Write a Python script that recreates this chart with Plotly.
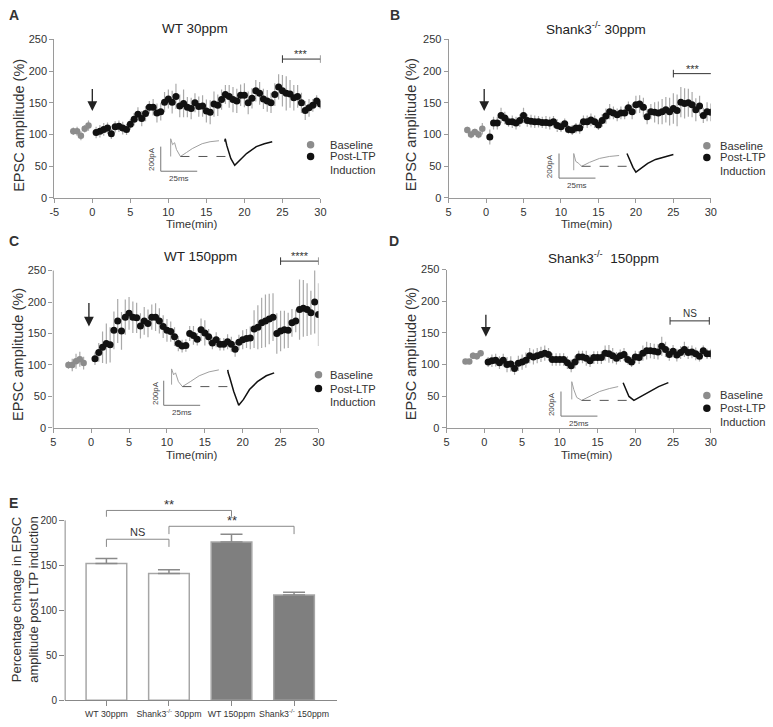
import plotly.graph_objects as go

W, H = 773, 727


def px(x):
    return x / W


def py(y):
    return 1 - y / H


# ---------------- DATA ----------------
TIME_TICKS = [-5, 0, 5, 10, 15, 20, 25, 30]
TICKTEXT_A = ["-5", "0", "5", "10", "15", "20", "25", "30"]
TICKTEXT_BCD = ["5", "0", "5", "10", "15", "20", "25", "30"]

TIME_POST = [0.5 * k for k in range(1, 61)]

# Panel A  WT 30ppm
A_BASE_T = [-2.5, -2.0, -1.5, -1.0, -0.5]
A_BASE_V = [105, 105, 98, 109, 114]
A_BASE_E = [6, 7, 7, 6, 8]
A_POST_V = [103, 105, 108, 110, 101, 112, 113, 110, 108, 116,
            124, 132, 125, 133, 143, 143, 134, 136, 151, 156,
            151, 160, 145, 149, 143, 141, 150, 144, 145, 137,
            135, 148, 146, 155, 163, 160, 155, 153, 162, 162,
            150, 157, 169, 165, 156, 153, 150, 163, 175, 169,
            165, 164, 158, 160, 150, 138, 142, 146, 153, 148]
A_POST_E = [9, 10, 10, 9, 8, 9, 9, 10, 9, 8,
            10, 11, 12, 12, 10, 13, 15, 14, 16, 15,
            18, 20, 18, 22, 16, 17, 15, 16, 17, 18,
            19, 20, 17, 16, 15, 18, 20, 19, 17, 19,
            18, 16, 17, 18, 16, 17, 16, 18, 20, 25,
            27, 22, 20, 18, 16, 15, 14, 10, 9, 8]

# Panel B  Shank3-/- 30ppm
B_BASE_T = [-2.5, -2.0, -1.5, -1.0, -0.5]
B_BASE_V = [107, 100, 104, 100, 109]
B_BASE_E = [5, 6, 5, 6, 9]
B_POST_V = [96, 118, 118, 130, 126, 120, 120, 118, 122, 130,
            122, 121, 120, 120, 119, 119, 118, 120, 114, 112,
            117, 108, 107, 110, 110, 120, 120, 123, 120, 115,
            122, 129, 136, 134, 131, 134, 134, 142, 136, 147,
            148, 143, 128, 136, 135, 134, 136, 139, 136, 141,
            138, 151, 149, 150, 147, 139, 145, 130, 136, 135]
B_POST_E = [12, 10, 10, 12, 10, 8, 10, 10, 10, 12,
            10, 10, 10, 9, 9, 10, 10, 9, 10, 8,
            8, 7, 8, 8, 9, 10, 10, 10, 10, 8,
            10, 12, 12, 10, 10, 10, 10, 10, 12, 14,
            14, 15, 12, 12, 16, 18, 20, 20, 22, 24,
            25, 24, 24, 22, 20, 18, 16, 12, 15, 14]

# Panel C  WT 150ppm
C_BASE_T = [-3.0, -2.5, -2.0, -1.5, -1.0]
C_BASE_V = [100, 100, 106, 109, 103]
C_BASE_E = [6, 10, 12, 12, 10]
C_POST_V = [110, 120, 128, 134, 132, 155, 170, 154, 176, 182,
            176, 175, 162, 170, 166, 176, 176, 170, 161, 155,
            153, 145, 134, 130, 131, 150, 147, 141, 156, 151,
            145, 135, 140, 133, 133, 137, 133, 125, 136, 140,
            142, 143, 157, 160, 167, 170, 173, 176, 150, 154,
            156, 155, 167, 170, 188, 190, 188, 183, 200, 180]
C_POST_E = [10, 15, 25, 32, 28, 30, 35, 30, 28, 26,
            25, 24, 20, 22, 22, 20, 22, 20, 18, 18,
            16, 15, 12, 10, 10, 12, 15, 10, 18, 20,
            12, 10, 12, 10, 10, 12, 12, 12, 12, 15,
            15, 18, 30, 35, 40, 42, 40, 38, 32, 32,
            30, 28, 22, 18, 48, 45, 42, 35, 50, 50]

# Panel D  Shank3-/- 150ppm
D_BASE_T = [-2.5, -2.0, -1.5, -1.0, -0.5]
D_BASE_V = [105, 105, 114, 113, 118]
D_BASE_E = [4, 4, 5, 5, 5]
D_POST_V = [104, 106, 107, 103, 107, 100, 101, 94, 102, 104,
            107, 114, 112, 114, 116, 118, 116, 108, 108, 108,
            108, 103, 98, 104, 112, 112, 110, 106, 111, 111,
            111, 118, 117, 114, 110, 114, 116, 108, 104, 112,
            111, 118, 122, 122, 121, 120, 129, 124, 116, 121,
            115, 119, 124, 119, 120, 117, 113, 122, 117, 117]
D_POST_E = [8, 10, 10, 10, 10, 12, 12, 10, 12, 12,
            12, 12, 12, 12, 12, 12, 10, 10, 10, 10,
            10, 10, 10, 10, 10, 10, 12, 10, 10, 10,
            10, 12, 14, 12, 10, 10, 10, 8, 8, 10,
            10, 12, 14, 12, 12, 12, 15, 12, 10, 10,
            10, 10, 12, 10, 10, 10, 8, 8, 8, 8]

# Panel E bar chart
E_CATS = ["WT 30ppm", "Shank3<sup>-/-</sup> 30ppm", "WT 150ppm", "Shank3<sup>-/-</sup> 150ppm"]
E_VALS = [152, 141, 176, 117]
E_ERRS = [5.5, 4, 8.5, 3]
E_FILL = ["white", "white", "#7f7f7f", "#7f7f7f"]

# Insets (example traces, ms / pA)
INSETS = {
    "A": dict(gray_t=[6.8, 6.8, 8.1, 9.5, 10.8, 13.5, 17.6, 21.6, 28.4, 33.8, 39.9],
              gray_i=[120, 264, 216, 232, 176, 120, 152, 184, 224, 240, 248],
              black_t=[43.9, 44.2, 45.3, 48, 50.7, 54, 58.8, 65.5, 71, 76.4],
              black_i=[240, 264, 208, 104, 48, 88, 144, 200, 224, 240],
              dash_t=[13.5, 44.5], dash_i=[120, 120]),
    "B": dict(gray_t=[10.1, 10.1, 11.5, 13.5, 15.5, 20.9, 27.7, 34.5, 41.2],
              gray_i=[64, 200, 136, 120, 96, 128, 160, 176, 184],
              black_t=[46.6, 48, 50.7, 52.7, 56.1, 60.8, 66.2, 73, 78.4],
              black_i=[200, 160, 88, 48, 80, 120, 152, 176, 192],
              dash_t=[15.5, 50], dash_i=[96, 96]),
    "C": dict(gray_t=[5.4, 5.4, 6.8, 8.1, 10.1, 12.8, 18.2, 24.3, 31.1, 37.8],
              gray_i=[168, 296, 248, 264, 192, 152, 192, 240, 272, 288],
              black_t=[43.9, 44.2, 45.3, 48, 51.4, 54.7, 58.8, 64.2, 70.3, 75.7],
              black_i=[288, 264, 224, 112, 0, 48, 128, 192, 240, 264],
              dash_t=[12.8, 44.5], dash_i=[152, 152]),
    "D": dict(gray_t=[7.4, 7.4, 8.8, 10.8, 14.2, 19.6, 26.4, 33.1, 39.2],
              gray_i=[136, 280, 216, 152, 128, 160, 200, 224, 240],
              black_t=[42.6, 43.9, 46.6, 50, 54.7, 60.1, 66.9, 73.6],
              black_i=[272, 232, 160, 128, 160, 200, 240, 272],
              dash_t=[14.2, 50], dash_i=[128, 128]),
}
SCALE_T = [0, 0, 25]
SCALE_I = [200, 0, 0]

# ---------------- FIGURE ----------------
FONT = "Liberation Sans, Arial, sans-serif"
AXC = "#9a9a9a"
TXT = "#333333"

fig = go.Figure()

panels = [
    ("A", "", A_BASE_T, A_BASE_V, A_BASE_E, A_POST_V, A_POST_E),
    ("B", "2", B_BASE_T, B_BASE_V, B_BASE_E, B_POST_V, B_POST_E),
    ("C", "3", C_BASE_T, C_BASE_V, C_BASE_E, C_POST_V, C_POST_E),
    ("D", "4", D_BASE_T, D_BASE_V, D_BASE_E, D_POST_V, D_POST_E),
]

for key, s, bt, bv, be, pv, pe in panels:
    fig.add_trace(go.Scatter(
        x=bt, y=bv, mode="markers", xaxis="x" + s, yaxis="y" + s,
        marker=dict(size=6.5, color="#8c8c8c"),
        error_y=dict(type="data", array=be, color="#aaaaaa", thickness=1.2, width=0)))
    fig.add_trace(go.Scatter(
        x=TIME_POST, y=pv, mode="markers", xaxis="x" + s, yaxis="y" + s,
        marker=dict(size=7, color="#111111"),
        error_y=dict(type="data", array=pe, color="#aaaaaa", thickness=1.2, width=0)))

# inset traces
inset_axes = {"A": "6", "B": "7", "C": "8", "D": "9"}
for key, n in inset_axes.items():
    d = INSETS[key]
    fig.add_trace(go.Scatter(x=d["gray_t"], y=d["gray_i"], mode="lines", xaxis="x" + n, yaxis="y" + n,
                             line=dict(color="#a0a0a0", width=1)))
    fig.add_trace(go.Scatter(x=d["black_t"], y=d["black_i"], mode="lines", xaxis="x" + n, yaxis="y" + n,
                             line=dict(color="#111111", width=1.5)))
    fig.add_trace(go.Scatter(x=d["dash_t"], y=d["dash_i"], mode="lines", xaxis="x" + n, yaxis="y" + n,
                             line=dict(color="#555555", width=1, dash="dash")))
    fig.add_trace(go.Scatter(x=SCALE_T, y=SCALE_I, mode="lines", xaxis="x" + n, yaxis="y" + n,
                             line=dict(color="#777777", width=1)))

# bar chart E
fig.add_trace(go.Bar(
    x=[0, 1, 2, 3], y=E_VALS, xaxis="x5", yaxis="y5", width=0.65,
    marker=dict(color=E_FILL, line=dict(color="#a6a6a6", width=1.5)),
    error_y=dict(type="data", array=E_ERRS, arrayminus=[0, 0, 0, 0], symmetric=False,
                 color="#8a8a8a", thickness=1.5, width=11)))

# ---------------- AXES ----------------
def time_xaxis(x0, x1, anchor, ticktext):
    return dict(domain=[px(x0), px(x1)], range=[-5, 30], anchor=anchor,
                tickvals=TIME_TICKS, ticktext=ticktext, showline=True, linecolor=AXC,
                ticks="outside", ticklen=4, tickcolor=AXC, showgrid=False, zeroline=False,
                tickangle=0, tickfont=dict(size=11, color=TXT, family=FONT))


def amp_yaxis(y_top, y_bot, anchor, rng, showline=True):
    return dict(domain=[py(y_bot), py(y_top)], range=rng, anchor=anchor,
                tickvals=[0, 50, 100, 150, 200, 250], showline=showline, linecolor=AXC,
                ticks="outside", ticklen=4, tickcolor=AXC, showgrid=False, zeroline=False,
                tickfont=dict(size=11, color=TXT, family=FONT))


layout = dict(
    width=W, height=H, margin=dict(l=0, r=0, t=0, b=0),
    paper_bgcolor="white", plot_bgcolor="rgba(0,0,0,0)", showlegend=False,
    font=dict(family=FONT, color=TXT),
    xaxis=time_xaxis(50, 320, "y", TICKTEXT_A),
    yaxis=amp_yaxis(34, 195, "x", [0, 250]),
    xaxis2=time_xaxis(450, 716, "y2", TICKTEXT_BCD),
    yaxis2=amp_yaxis(34, 195, "x2", [0, 250]),
    xaxis3=time_xaxis(49, 318, "y3", TICKTEXT_BCD),
    yaxis3=amp_yaxis(249.8, 429, "x3", [0, 280], showline=False),
    xaxis4=time_xaxis(448, 716, "y4", TICKTEXT_BCD),
    yaxis4=amp_yaxis(268, 429, "x4", [0, 250]),
    xaxis5=dict(domain=[px(61), px(337)], range=[-0.66, 3.69], anchor="y5",
                tickvals=[0, 1, 2, 3], ticktext=E_CATS, showline=True, linecolor="#888",
                ticks="outside", ticklen=5, tickcolor="#888", showgrid=False, zeroline=False,
                tickangle=0, tickfont=dict(size=8.8, color=TXT, family=FONT)),
    yaxis5=dict(domain=[py(706), py(500.1)], range=[0, 225], anchor="x5",
                tickvals=[0, 50, 100, 150, 200], showline=False,
                ticks="outside", ticklen=5, tickcolor="#888", showgrid=False, zeroline=False,
                tickfont=dict(size=10, color=TXT, family=FONT)),
)

# inset axes: corner of scale bar in page pixels
inset_corners = {"6": (158, 168), "7": (562, 175), "8": (161, 406), "9": (564, 417)}
for n, (cx, cy) in inset_corners.items():
    layout["xaxis" + n] = dict(domain=[px(cx - 10), px(cx + 125)], range=[-10 / 1.48, 125 / 1.48],
                               anchor="y" + n, visible=False)
    layout["yaxis" + n] = dict(domain=[py(cy + 10), py(cy - 40)], range=[-80, 320],
                               anchor="x" + n, visible=False)

fig.update_layout(**layout)

# ---------------- SHAPES & ANNOTATIONS ----------------
shapes = []
ann = []


def txt(x, y, t, size=11, xanchor="center", yanchor="middle", angle=0, bold=False, family=FONT, color=TXT):
    ann.append(dict(x=px(x), y=py(y), xref="paper", yref="paper", text=("<b>%s</b>" % t) if bold else t,
                    showarrow=False, xanchor=xanchor, yanchor=yanchor, textangle=angle,
                    font=dict(size=size, family=family, color=color)))


# manual y-axis lines where the range is extended above the axis top
shapes.append(dict(type="line", xref="paper", yref="paper", x0=px(49), x1=px(49), y0=py(429), y1=py(269),
                   line=dict(color=AXC, width=1)))
shapes.append(dict(type="line", xref="paper", yref="paper", x0=px(61), x1=px(61), y0=py(706), y1=py(523),
                   line=dict(color="#888", width=1)))

# panel letters
txt(9, 9, "A", 14, bold=True)
txt(396, 9, "B", 14, bold=True)
txt(9, 239, "C", 14, bold=True)
txt(395, 239, "D", 14, bold=True)
txt(9, 505, "E", 14, bold=True)

# titles
txt(193, 23, "WT 30ppm", 13.5, color="#222")
txt(600, 22, "Shank3<sup>-/-</sup> 30ppm", 13.5, color="#222")
txt(198, 255, "WT 150ppm", 13.5, color="#222")
txt(607, 255, "Shank3<sup>-/-</sup>  150ppm", 13.5, color="#222")

# axis titles
for (x, y) in [(14, 121), (412, 121), (13, 354), (412, 354)]:
    txt(x, y, "EPSC amplitude (%)", 14.5, angle=-90)
for (x, y) in [(189, 222), (590, 222), (189, 457), (590, 457)]:
    txt(x, y, "Time(min)", 11.5)
txt(20, 604, "Percentage chnage in EPSC<br>amplitude post LTP induction", 13, angle=-90)

# legends
legend_pos = [(310, 328, 141, 153, 167), (712, 723, 142, 154, 168),
              (318, 328, 375, 389, 403), (712, 723, 396, 409, 423)]
for dx, tx, y1, y2, y3 in legend_pos:
    for cy, col in [(y1, "#8c8c8c"), (y2, "#111111")]:
        shapes.append(dict(type="circle", xref="paper", yref="paper", x0=px(dx - 3.8), x1=px(dx + 3.8),
                           y0=py(cy + 3.8), y1=py(cy - 3.8), fillcolor=col, line=dict(width=0)))
    txt(tx, y1, "Baseline", 11.2, xanchor="left")
    txt(tx, y2, "Post-LTP", 11.2, xanchor="left")
    txt(tx, y3, "Induction", 11.2, xanchor="left")

# inset scale labels
for n in inset_axes.values():
    ann.append(dict(x=-1.5, y=100, xref="x" + n, yref="y" + n, text="200pA", showarrow=False,
                    textangle=-90, xanchor="right", yanchor="middle", font=dict(size=8, color="#444")))
    ann.append(dict(x=12.5, y=0, xref="x" + n, yref="y" + n, text="25ms", showarrow=False,
                    xanchor="center", yanchor="top", yshift=-1, font=dict(size=8, color="#444")))

# arrows (LTP induction)
arrows = [("", 0, 174, 137), ("2", -0.25, 174, 137), ("3", -0.3, 201, 161), ("4", 0.2, 181, 144)]
for s, t, y0, y1 in arrows:
    ann.append(dict(x=t, y=y1, ax=t, ay=y0, xref="x" + s, yref="y" + s, axref="x" + s, ayref="y" + s,
                    text="", showarrow=True, arrowhead=2, arrowsize=1.5, arrowwidth=1.3, arrowcolor="#222"))

# significance brackets on time panels
brackets = [("", 25, 30, 219, 6, "***"), ("2", 25, 30.2, 196, 6, "***"),
            ("3", 25, 30, 265, 6, "****"), ("4", 24.6, 29.8, 169, 6, "NS")]
for s, t0, t1, yb, cap, label in brackets:
    xr, yr = "x" + s, "y" + s
    shapes.append(dict(type="line", xref=xr, yref=yr, x0=t0, x1=t1, y0=yb, y1=yb, line=dict(color="#333", width=1)))
    for t in (t0, t1):
        shapes.append(dict(type="line", xref=xr, yref=yr, x0=t, x1=t, y0=yb - cap, y1=yb + cap,
                           line=dict(color="#333", width=1)))
    ann.append(dict(x=(t0 + t1) / 2, y=yb, xref=xr, yref=yr, text=label, showarrow=False,
                    yanchor="bottom", yshift=(0 if label == "NS" else -3),
                    font=dict(size=(10 if label == "NS" else 11), color="#333")))

# significance brackets on bar chart
e_brackets = [(0, 2, 211, 204, "**"), (0, 1, 179, 170.5, "NS"), (1, 3, 193.4, 184.7, "**")]
for c0, c1, yb, ydrop, label in e_brackets:
    shapes.append(dict(type="line", xref="x5", yref="y5", x0=c0, x1=c1, y0=yb, y1=yb, line=dict(color="#888", width=1)))
    for c in (c0, c1):
        shapes.append(dict(type="line", xref="x5", yref="y5", x0=c, x1=c, y0=ydrop, y1=yb,
                           line=dict(color="#888", width=1)))
    ann.append(dict(x=(c0 + c1) / 2, y=yb, xref="x5", yref="y5", text=label, showarrow=False,
                    yanchor="bottom", yshift=(-1 if label == "NS" else -4),
                    font=dict(size=(11 if label == "NS" else 13), color="#333")))

fig.update_layout(shapes=shapes, annotations=ann)
# remove the default 8px page margin so the figure fills the 773x727 window exactly
fig.write_html("out.html", config={"displayModeBar": False},
               post_script="document.body.style.margin='0px';")
